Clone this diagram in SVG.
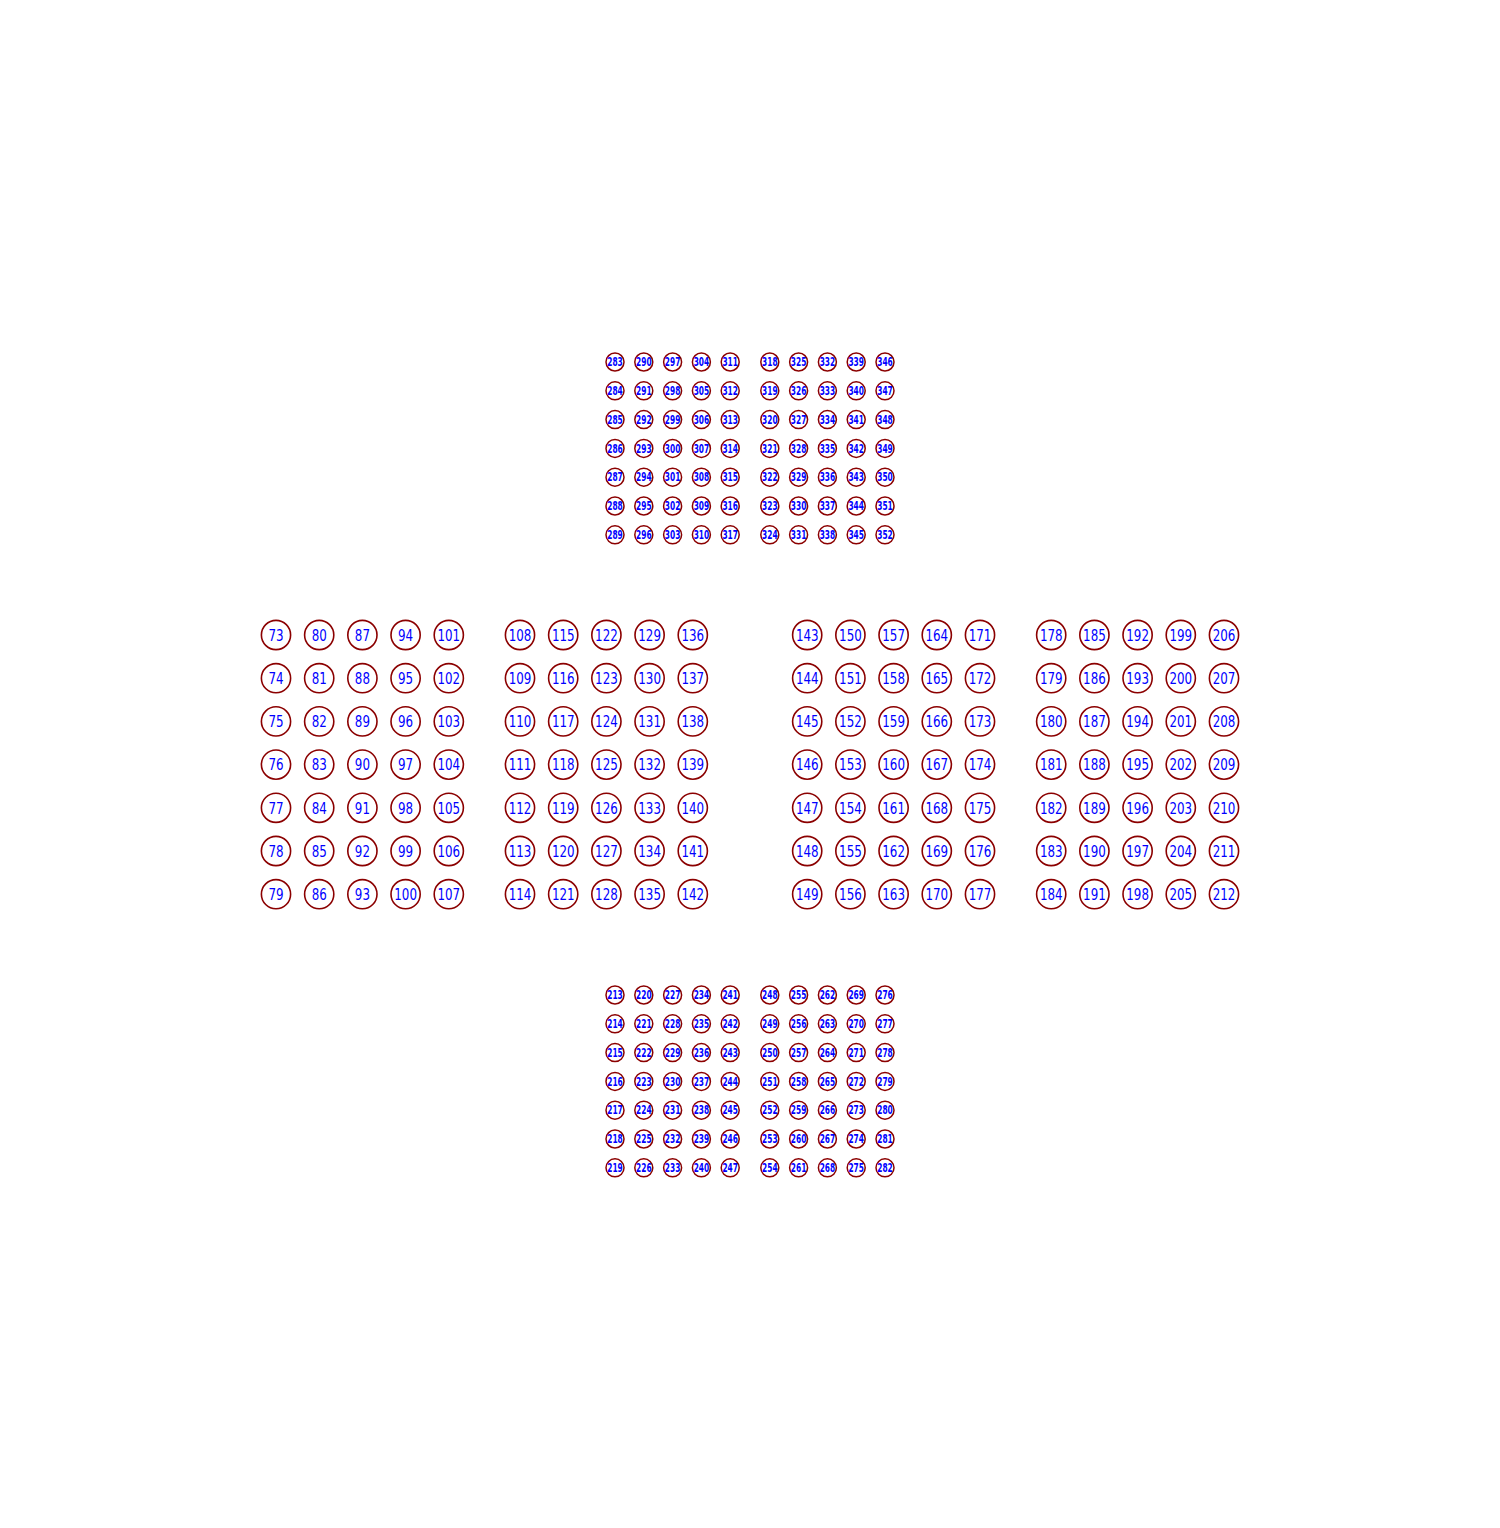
<svg xmlns="http://www.w3.org/2000/svg" width="1500" height="1528" viewBox="0 0 1500 1528">
<style>
circle{fill:#fff;stroke:#8b0000;stroke-width:1.6}
.s circle{stroke-width:1.5}
text{fill:#0000ff;font-family:"DejaVu Sans",sans-serif;text-anchor:middle;dominant-baseline:central}
.b text{font-size:16.5px;transform:scaleX(0.72)}
.s text{font-size:12px;font-weight:bold;transform:scaleX(0.62)}
</style>
<rect width="1500" height="1528" fill="#fff"/>
<g id="connectors"/>
<g class="b">
<g id="n73" transform="translate(276,635)"><circle r="14.6"/><text>73</text></g>
<g id="n74" transform="translate(276,678.2)"><circle r="14.6"/><text>74</text></g>
<g id="n75" transform="translate(276,721.4)"><circle r="14.6"/><text>75</text></g>
<g id="n76" transform="translate(276,764.6)"><circle r="14.6"/><text>76</text></g>
<g id="n77" transform="translate(276,807.8)"><circle r="14.6"/><text>77</text></g>
<g id="n78" transform="translate(276,851)"><circle r="14.6"/><text>78</text></g>
<g id="n79" transform="translate(276,894.2)"><circle r="14.6"/><text>79</text></g>
<g id="n80" transform="translate(319.2,635)"><circle r="14.6"/><text>80</text></g>
<g id="n81" transform="translate(319.2,678.2)"><circle r="14.6"/><text>81</text></g>
<g id="n82" transform="translate(319.2,721.4)"><circle r="14.6"/><text>82</text></g>
<g id="n83" transform="translate(319.2,764.6)"><circle r="14.6"/><text>83</text></g>
<g id="n84" transform="translate(319.2,807.8)"><circle r="14.6"/><text>84</text></g>
<g id="n85" transform="translate(319.2,851)"><circle r="14.6"/><text>85</text></g>
<g id="n86" transform="translate(319.2,894.2)"><circle r="14.6"/><text>86</text></g>
<g id="n87" transform="translate(362.4,635)"><circle r="14.6"/><text>87</text></g>
<g id="n88" transform="translate(362.4,678.2)"><circle r="14.6"/><text>88</text></g>
<g id="n89" transform="translate(362.4,721.4)"><circle r="14.6"/><text>89</text></g>
<g id="n90" transform="translate(362.4,764.6)"><circle r="14.6"/><text>90</text></g>
<g id="n91" transform="translate(362.4,807.8)"><circle r="14.6"/><text>91</text></g>
<g id="n92" transform="translate(362.4,851)"><circle r="14.6"/><text>92</text></g>
<g id="n93" transform="translate(362.4,894.2)"><circle r="14.6"/><text>93</text></g>
<g id="n94" transform="translate(405.6,635)"><circle r="14.6"/><text>94</text></g>
<g id="n95" transform="translate(405.6,678.2)"><circle r="14.6"/><text>95</text></g>
<g id="n96" transform="translate(405.6,721.4)"><circle r="14.6"/><text>96</text></g>
<g id="n97" transform="translate(405.6,764.6)"><circle r="14.6"/><text>97</text></g>
<g id="n98" transform="translate(405.6,807.8)"><circle r="14.6"/><text>98</text></g>
<g id="n99" transform="translate(405.6,851)"><circle r="14.6"/><text>99</text></g>
<g id="n100" transform="translate(405.6,894.2)"><circle r="14.6"/><text>100</text></g>
<g id="n101" transform="translate(448.8,635)"><circle r="14.6"/><text>101</text></g>
<g id="n102" transform="translate(448.8,678.2)"><circle r="14.6"/><text>102</text></g>
<g id="n103" transform="translate(448.8,721.4)"><circle r="14.6"/><text>103</text></g>
<g id="n104" transform="translate(448.8,764.6)"><circle r="14.6"/><text>104</text></g>
<g id="n105" transform="translate(448.8,807.8)"><circle r="14.6"/><text>105</text></g>
<g id="n106" transform="translate(448.8,851)"><circle r="14.6"/><text>106</text></g>
<g id="n107" transform="translate(448.8,894.2)"><circle r="14.6"/><text>107</text></g>
<g id="n108" transform="translate(520,635)"><circle r="14.6"/><text>108</text></g>
<g id="n109" transform="translate(520,678.2)"><circle r="14.6"/><text>109</text></g>
<g id="n110" transform="translate(520,721.4)"><circle r="14.6"/><text>110</text></g>
<g id="n111" transform="translate(520,764.6)"><circle r="14.6"/><text>111</text></g>
<g id="n112" transform="translate(520,807.8)"><circle r="14.6"/><text>112</text></g>
<g id="n113" transform="translate(520,851)"><circle r="14.6"/><text>113</text></g>
<g id="n114" transform="translate(520,894.2)"><circle r="14.6"/><text>114</text></g>
<g id="n115" transform="translate(563.2,635)"><circle r="14.6"/><text>115</text></g>
<g id="n116" transform="translate(563.2,678.2)"><circle r="14.6"/><text>116</text></g>
<g id="n117" transform="translate(563.2,721.4)"><circle r="14.6"/><text>117</text></g>
<g id="n118" transform="translate(563.2,764.6)"><circle r="14.6"/><text>118</text></g>
<g id="n119" transform="translate(563.2,807.8)"><circle r="14.6"/><text>119</text></g>
<g id="n120" transform="translate(563.2,851)"><circle r="14.6"/><text>120</text></g>
<g id="n121" transform="translate(563.2,894.2)"><circle r="14.6"/><text>121</text></g>
<g id="n122" transform="translate(606.4,635)"><circle r="14.6"/><text>122</text></g>
<g id="n123" transform="translate(606.4,678.2)"><circle r="14.6"/><text>123</text></g>
<g id="n124" transform="translate(606.4,721.4)"><circle r="14.6"/><text>124</text></g>
<g id="n125" transform="translate(606.4,764.6)"><circle r="14.6"/><text>125</text></g>
<g id="n126" transform="translate(606.4,807.8)"><circle r="14.6"/><text>126</text></g>
<g id="n127" transform="translate(606.4,851)"><circle r="14.6"/><text>127</text></g>
<g id="n128" transform="translate(606.4,894.2)"><circle r="14.6"/><text>128</text></g>
<g id="n129" transform="translate(649.6,635)"><circle r="14.6"/><text>129</text></g>
<g id="n130" transform="translate(649.6,678.2)"><circle r="14.6"/><text>130</text></g>
<g id="n131" transform="translate(649.6,721.4)"><circle r="14.6"/><text>131</text></g>
<g id="n132" transform="translate(649.6,764.6)"><circle r="14.6"/><text>132</text></g>
<g id="n133" transform="translate(649.6,807.8)"><circle r="14.6"/><text>133</text></g>
<g id="n134" transform="translate(649.6,851)"><circle r="14.6"/><text>134</text></g>
<g id="n135" transform="translate(649.6,894.2)"><circle r="14.6"/><text>135</text></g>
<g id="n136" transform="translate(692.8,635)"><circle r="14.6"/><text>136</text></g>
<g id="n137" transform="translate(692.8,678.2)"><circle r="14.6"/><text>137</text></g>
<g id="n138" transform="translate(692.8,721.4)"><circle r="14.6"/><text>138</text></g>
<g id="n139" transform="translate(692.8,764.6)"><circle r="14.6"/><text>139</text></g>
<g id="n140" transform="translate(692.8,807.8)"><circle r="14.6"/><text>140</text></g>
<g id="n141" transform="translate(692.8,851)"><circle r="14.6"/><text>141</text></g>
<g id="n142" transform="translate(692.8,894.2)"><circle r="14.6"/><text>142</text></g>
<g id="n143" transform="translate(807.2,635)"><circle r="14.6"/><text>143</text></g>
<g id="n144" transform="translate(807.2,678.2)"><circle r="14.6"/><text>144</text></g>
<g id="n145" transform="translate(807.2,721.4)"><circle r="14.6"/><text>145</text></g>
<g id="n146" transform="translate(807.2,764.6)"><circle r="14.6"/><text>146</text></g>
<g id="n147" transform="translate(807.2,807.8)"><circle r="14.6"/><text>147</text></g>
<g id="n148" transform="translate(807.2,851)"><circle r="14.6"/><text>148</text></g>
<g id="n149" transform="translate(807.2,894.2)"><circle r="14.6"/><text>149</text></g>
<g id="n150" transform="translate(850.4,635)"><circle r="14.6"/><text>150</text></g>
<g id="n151" transform="translate(850.4,678.2)"><circle r="14.6"/><text>151</text></g>
<g id="n152" transform="translate(850.4,721.4)"><circle r="14.6"/><text>152</text></g>
<g id="n153" transform="translate(850.4,764.6)"><circle r="14.6"/><text>153</text></g>
<g id="n154" transform="translate(850.4,807.8)"><circle r="14.6"/><text>154</text></g>
<g id="n155" transform="translate(850.4,851)"><circle r="14.6"/><text>155</text></g>
<g id="n156" transform="translate(850.4,894.2)"><circle r="14.6"/><text>156</text></g>
<g id="n157" transform="translate(893.6,635)"><circle r="14.6"/><text>157</text></g>
<g id="n158" transform="translate(893.6,678.2)"><circle r="14.6"/><text>158</text></g>
<g id="n159" transform="translate(893.6,721.4)"><circle r="14.6"/><text>159</text></g>
<g id="n160" transform="translate(893.6,764.6)"><circle r="14.6"/><text>160</text></g>
<g id="n161" transform="translate(893.6,807.8)"><circle r="14.6"/><text>161</text></g>
<g id="n162" transform="translate(893.6,851)"><circle r="14.6"/><text>162</text></g>
<g id="n163" transform="translate(893.6,894.2)"><circle r="14.6"/><text>163</text></g>
<g id="n164" transform="translate(936.8,635)"><circle r="14.6"/><text>164</text></g>
<g id="n165" transform="translate(936.8,678.2)"><circle r="14.6"/><text>165</text></g>
<g id="n166" transform="translate(936.8,721.4)"><circle r="14.6"/><text>166</text></g>
<g id="n167" transform="translate(936.8,764.6)"><circle r="14.6"/><text>167</text></g>
<g id="n168" transform="translate(936.8,807.8)"><circle r="14.6"/><text>168</text></g>
<g id="n169" transform="translate(936.8,851)"><circle r="14.6"/><text>169</text></g>
<g id="n170" transform="translate(936.8,894.2)"><circle r="14.6"/><text>170</text></g>
<g id="n171" transform="translate(980,635)"><circle r="14.6"/><text>171</text></g>
<g id="n172" transform="translate(980,678.2)"><circle r="14.6"/><text>172</text></g>
<g id="n173" transform="translate(980,721.4)"><circle r="14.6"/><text>173</text></g>
<g id="n174" transform="translate(980,764.6)"><circle r="14.6"/><text>174</text></g>
<g id="n175" transform="translate(980,807.8)"><circle r="14.6"/><text>175</text></g>
<g id="n176" transform="translate(980,851)"><circle r="14.6"/><text>176</text></g>
<g id="n177" transform="translate(980,894.2)"><circle r="14.6"/><text>177</text></g>
<g id="n178" transform="translate(1051.2,635)"><circle r="14.6"/><text>178</text></g>
<g id="n179" transform="translate(1051.2,678.2)"><circle r="14.6"/><text>179</text></g>
<g id="n180" transform="translate(1051.2,721.4)"><circle r="14.6"/><text>180</text></g>
<g id="n181" transform="translate(1051.2,764.6)"><circle r="14.6"/><text>181</text></g>
<g id="n182" transform="translate(1051.2,807.8)"><circle r="14.6"/><text>182</text></g>
<g id="n183" transform="translate(1051.2,851)"><circle r="14.6"/><text>183</text></g>
<g id="n184" transform="translate(1051.2,894.2)"><circle r="14.6"/><text>184</text></g>
<g id="n185" transform="translate(1094.4,635)"><circle r="14.6"/><text>185</text></g>
<g id="n186" transform="translate(1094.4,678.2)"><circle r="14.6"/><text>186</text></g>
<g id="n187" transform="translate(1094.4,721.4)"><circle r="14.6"/><text>187</text></g>
<g id="n188" transform="translate(1094.4,764.6)"><circle r="14.6"/><text>188</text></g>
<g id="n189" transform="translate(1094.4,807.8)"><circle r="14.6"/><text>189</text></g>
<g id="n190" transform="translate(1094.4,851)"><circle r="14.6"/><text>190</text></g>
<g id="n191" transform="translate(1094.4,894.2)"><circle r="14.6"/><text>191</text></g>
<g id="n192" transform="translate(1137.6,635)"><circle r="14.6"/><text>192</text></g>
<g id="n193" transform="translate(1137.6,678.2)"><circle r="14.6"/><text>193</text></g>
<g id="n194" transform="translate(1137.6,721.4)"><circle r="14.6"/><text>194</text></g>
<g id="n195" transform="translate(1137.6,764.6)"><circle r="14.6"/><text>195</text></g>
<g id="n196" transform="translate(1137.6,807.8)"><circle r="14.6"/><text>196</text></g>
<g id="n197" transform="translate(1137.6,851)"><circle r="14.6"/><text>197</text></g>
<g id="n198" transform="translate(1137.6,894.2)"><circle r="14.6"/><text>198</text></g>
<g id="n199" transform="translate(1180.8,635)"><circle r="14.6"/><text>199</text></g>
<g id="n200" transform="translate(1180.8,678.2)"><circle r="14.6"/><text>200</text></g>
<g id="n201" transform="translate(1180.8,721.4)"><circle r="14.6"/><text>201</text></g>
<g id="n202" transform="translate(1180.8,764.6)"><circle r="14.6"/><text>202</text></g>
<g id="n203" transform="translate(1180.8,807.8)"><circle r="14.6"/><text>203</text></g>
<g id="n204" transform="translate(1180.8,851)"><circle r="14.6"/><text>204</text></g>
<g id="n205" transform="translate(1180.8,894.2)"><circle r="14.6"/><text>205</text></g>
<g id="n206" transform="translate(1224,635)"><circle r="14.6"/><text>206</text></g>
<g id="n207" transform="translate(1224,678.2)"><circle r="14.6"/><text>207</text></g>
<g id="n208" transform="translate(1224,721.4)"><circle r="14.6"/><text>208</text></g>
<g id="n209" transform="translate(1224,764.6)"><circle r="14.6"/><text>209</text></g>
<g id="n210" transform="translate(1224,807.8)"><circle r="14.6"/><text>210</text></g>
<g id="n211" transform="translate(1224,851)"><circle r="14.6"/><text>211</text></g>
<g id="n212" transform="translate(1224,894.2)"><circle r="14.6"/><text>212</text></g>
</g>
<g class="s">
<g id="n213" transform="translate(615,995)"><circle r="9"/><text>213</text></g>
<g id="n214" transform="translate(615,1023.8)"><circle r="9"/><text>214</text></g>
<g id="n215" transform="translate(615,1052.6)"><circle r="9"/><text>215</text></g>
<g id="n216" transform="translate(615,1081.4)"><circle r="9"/><text>216</text></g>
<g id="n217" transform="translate(615,1110.2)"><circle r="9"/><text>217</text></g>
<g id="n218" transform="translate(615,1139)"><circle r="9"/><text>218</text></g>
<g id="n219" transform="translate(615,1167.8)"><circle r="9"/><text>219</text></g>
<g id="n220" transform="translate(643.8,995)"><circle r="9"/><text>220</text></g>
<g id="n221" transform="translate(643.8,1023.8)"><circle r="9"/><text>221</text></g>
<g id="n222" transform="translate(643.8,1052.6)"><circle r="9"/><text>222</text></g>
<g id="n223" transform="translate(643.8,1081.4)"><circle r="9"/><text>223</text></g>
<g id="n224" transform="translate(643.8,1110.2)"><circle r="9"/><text>224</text></g>
<g id="n225" transform="translate(643.8,1139)"><circle r="9"/><text>225</text></g>
<g id="n226" transform="translate(643.8,1167.8)"><circle r="9"/><text>226</text></g>
<g id="n227" transform="translate(672.6,995)"><circle r="9"/><text>227</text></g>
<g id="n228" transform="translate(672.6,1023.8)"><circle r="9"/><text>228</text></g>
<g id="n229" transform="translate(672.6,1052.6)"><circle r="9"/><text>229</text></g>
<g id="n230" transform="translate(672.6,1081.4)"><circle r="9"/><text>230</text></g>
<g id="n231" transform="translate(672.6,1110.2)"><circle r="9"/><text>231</text></g>
<g id="n232" transform="translate(672.6,1139)"><circle r="9"/><text>232</text></g>
<g id="n233" transform="translate(672.6,1167.8)"><circle r="9"/><text>233</text></g>
<g id="n234" transform="translate(701.4,995)"><circle r="9"/><text>234</text></g>
<g id="n235" transform="translate(701.4,1023.8)"><circle r="9"/><text>235</text></g>
<g id="n236" transform="translate(701.4,1052.6)"><circle r="9"/><text>236</text></g>
<g id="n237" transform="translate(701.4,1081.4)"><circle r="9"/><text>237</text></g>
<g id="n238" transform="translate(701.4,1110.2)"><circle r="9"/><text>238</text></g>
<g id="n239" transform="translate(701.4,1139)"><circle r="9"/><text>239</text></g>
<g id="n240" transform="translate(701.4,1167.8)"><circle r="9"/><text>240</text></g>
<g id="n241" transform="translate(730.2,995)"><circle r="9"/><text>241</text></g>
<g id="n242" transform="translate(730.2,1023.8)"><circle r="9"/><text>242</text></g>
<g id="n243" transform="translate(730.2,1052.6)"><circle r="9"/><text>243</text></g>
<g id="n244" transform="translate(730.2,1081.4)"><circle r="9"/><text>244</text></g>
<g id="n245" transform="translate(730.2,1110.2)"><circle r="9"/><text>245</text></g>
<g id="n246" transform="translate(730.2,1139)"><circle r="9"/><text>246</text></g>
<g id="n247" transform="translate(730.2,1167.8)"><circle r="9"/><text>247</text></g>
<g id="n248" transform="translate(769.8,995)"><circle r="9"/><text>248</text></g>
<g id="n249" transform="translate(769.8,1023.8)"><circle r="9"/><text>249</text></g>
<g id="n250" transform="translate(769.8,1052.6)"><circle r="9"/><text>250</text></g>
<g id="n251" transform="translate(769.8,1081.4)"><circle r="9"/><text>251</text></g>
<g id="n252" transform="translate(769.8,1110.2)"><circle r="9"/><text>252</text></g>
<g id="n253" transform="translate(769.8,1139)"><circle r="9"/><text>253</text></g>
<g id="n254" transform="translate(769.8,1167.8)"><circle r="9"/><text>254</text></g>
<g id="n255" transform="translate(798.6,995)"><circle r="9"/><text>255</text></g>
<g id="n256" transform="translate(798.6,1023.8)"><circle r="9"/><text>256</text></g>
<g id="n257" transform="translate(798.6,1052.6)"><circle r="9"/><text>257</text></g>
<g id="n258" transform="translate(798.6,1081.4)"><circle r="9"/><text>258</text></g>
<g id="n259" transform="translate(798.6,1110.2)"><circle r="9"/><text>259</text></g>
<g id="n260" transform="translate(798.6,1139)"><circle r="9"/><text>260</text></g>
<g id="n261" transform="translate(798.6,1167.8)"><circle r="9"/><text>261</text></g>
<g id="n262" transform="translate(827.4,995)"><circle r="9"/><text>262</text></g>
<g id="n263" transform="translate(827.4,1023.8)"><circle r="9"/><text>263</text></g>
<g id="n264" transform="translate(827.4,1052.6)"><circle r="9"/><text>264</text></g>
<g id="n265" transform="translate(827.4,1081.4)"><circle r="9"/><text>265</text></g>
<g id="n266" transform="translate(827.4,1110.2)"><circle r="9"/><text>266</text></g>
<g id="n267" transform="translate(827.4,1139)"><circle r="9"/><text>267</text></g>
<g id="n268" transform="translate(827.4,1167.8)"><circle r="9"/><text>268</text></g>
<g id="n269" transform="translate(856.2,995)"><circle r="9"/><text>269</text></g>
<g id="n270" transform="translate(856.2,1023.8)"><circle r="9"/><text>270</text></g>
<g id="n271" transform="translate(856.2,1052.6)"><circle r="9"/><text>271</text></g>
<g id="n272" transform="translate(856.2,1081.4)"><circle r="9"/><text>272</text></g>
<g id="n273" transform="translate(856.2,1110.2)"><circle r="9"/><text>273</text></g>
<g id="n274" transform="translate(856.2,1139)"><circle r="9"/><text>274</text></g>
<g id="n275" transform="translate(856.2,1167.8)"><circle r="9"/><text>275</text></g>
<g id="n276" transform="translate(885,995)"><circle r="9"/><text>276</text></g>
<g id="n277" transform="translate(885,1023.8)"><circle r="9"/><text>277</text></g>
<g id="n278" transform="translate(885,1052.6)"><circle r="9"/><text>278</text></g>
<g id="n279" transform="translate(885,1081.4)"><circle r="9"/><text>279</text></g>
<g id="n280" transform="translate(885,1110.2)"><circle r="9"/><text>280</text></g>
<g id="n281" transform="translate(885,1139)"><circle r="9"/><text>281</text></g>
<g id="n282" transform="translate(885,1167.8)"><circle r="9"/><text>282</text></g>
<g id="n283" transform="translate(615,362)"><circle r="9"/><text>283</text></g>
<g id="n284" transform="translate(615,390.8)"><circle r="9"/><text>284</text></g>
<g id="n285" transform="translate(615,419.6)"><circle r="9"/><text>285</text></g>
<g id="n286" transform="translate(615,448.4)"><circle r="9"/><text>286</text></g>
<g id="n287" transform="translate(615,477.2)"><circle r="9"/><text>287</text></g>
<g id="n288" transform="translate(615,506)"><circle r="9"/><text>288</text></g>
<g id="n289" transform="translate(615,534.8)"><circle r="9"/><text>289</text></g>
<g id="n290" transform="translate(643.8,362)"><circle r="9"/><text>290</text></g>
<g id="n291" transform="translate(643.8,390.8)"><circle r="9"/><text>291</text></g>
<g id="n292" transform="translate(643.8,419.6)"><circle r="9"/><text>292</text></g>
<g id="n293" transform="translate(643.8,448.4)"><circle r="9"/><text>293</text></g>
<g id="n294" transform="translate(643.8,477.2)"><circle r="9"/><text>294</text></g>
<g id="n295" transform="translate(643.8,506)"><circle r="9"/><text>295</text></g>
<g id="n296" transform="translate(643.8,534.8)"><circle r="9"/><text>296</text></g>
<g id="n297" transform="translate(672.6,362)"><circle r="9"/><text>297</text></g>
<g id="n298" transform="translate(672.6,390.8)"><circle r="9"/><text>298</text></g>
<g id="n299" transform="translate(672.6,419.6)"><circle r="9"/><text>299</text></g>
<g id="n300" transform="translate(672.6,448.4)"><circle r="9"/><text>300</text></g>
<g id="n301" transform="translate(672.6,477.2)"><circle r="9"/><text>301</text></g>
<g id="n302" transform="translate(672.6,506)"><circle r="9"/><text>302</text></g>
<g id="n303" transform="translate(672.6,534.8)"><circle r="9"/><text>303</text></g>
<g id="n304" transform="translate(701.4,362)"><circle r="9"/><text>304</text></g>
<g id="n305" transform="translate(701.4,390.8)"><circle r="9"/><text>305</text></g>
<g id="n306" transform="translate(701.4,419.6)"><circle r="9"/><text>306</text></g>
<g id="n307" transform="translate(701.4,448.4)"><circle r="9"/><text>307</text></g>
<g id="n308" transform="translate(701.4,477.2)"><circle r="9"/><text>308</text></g>
<g id="n309" transform="translate(701.4,506)"><circle r="9"/><text>309</text></g>
<g id="n310" transform="translate(701.4,534.8)"><circle r="9"/><text>310</text></g>
<g id="n311" transform="translate(730.2,362)"><circle r="9"/><text>311</text></g>
<g id="n312" transform="translate(730.2,390.8)"><circle r="9"/><text>312</text></g>
<g id="n313" transform="translate(730.2,419.6)"><circle r="9"/><text>313</text></g>
<g id="n314" transform="translate(730.2,448.4)"><circle r="9"/><text>314</text></g>
<g id="n315" transform="translate(730.2,477.2)"><circle r="9"/><text>315</text></g>
<g id="n316" transform="translate(730.2,506)"><circle r="9"/><text>316</text></g>
<g id="n317" transform="translate(730.2,534.8)"><circle r="9"/><text>317</text></g>
<g id="n318" transform="translate(769.8,362)"><circle r="9"/><text>318</text></g>
<g id="n319" transform="translate(769.8,390.8)"><circle r="9"/><text>319</text></g>
<g id="n320" transform="translate(769.8,419.6)"><circle r="9"/><text>320</text></g>
<g id="n321" transform="translate(769.8,448.4)"><circle r="9"/><text>321</text></g>
<g id="n322" transform="translate(769.8,477.2)"><circle r="9"/><text>322</text></g>
<g id="n323" transform="translate(769.8,506)"><circle r="9"/><text>323</text></g>
<g id="n324" transform="translate(769.8,534.8)"><circle r="9"/><text>324</text></g>
<g id="n325" transform="translate(798.6,362)"><circle r="9"/><text>325</text></g>
<g id="n326" transform="translate(798.6,390.8)"><circle r="9"/><text>326</text></g>
<g id="n327" transform="translate(798.6,419.6)"><circle r="9"/><text>327</text></g>
<g id="n328" transform="translate(798.6,448.4)"><circle r="9"/><text>328</text></g>
<g id="n329" transform="translate(798.6,477.2)"><circle r="9"/><text>329</text></g>
<g id="n330" transform="translate(798.6,506)"><circle r="9"/><text>330</text></g>
<g id="n331" transform="translate(798.6,534.8)"><circle r="9"/><text>331</text></g>
<g id="n332" transform="translate(827.4,362)"><circle r="9"/><text>332</text></g>
<g id="n333" transform="translate(827.4,390.8)"><circle r="9"/><text>333</text></g>
<g id="n334" transform="translate(827.4,419.6)"><circle r="9"/><text>334</text></g>
<g id="n335" transform="translate(827.4,448.4)"><circle r="9"/><text>335</text></g>
<g id="n336" transform="translate(827.4,477.2)"><circle r="9"/><text>336</text></g>
<g id="n337" transform="translate(827.4,506)"><circle r="9"/><text>337</text></g>
<g id="n338" transform="translate(827.4,534.8)"><circle r="9"/><text>338</text></g>
<g id="n339" transform="translate(856.2,362)"><circle r="9"/><text>339</text></g>
<g id="n340" transform="translate(856.2,390.8)"><circle r="9"/><text>340</text></g>
<g id="n341" transform="translate(856.2,419.6)"><circle r="9"/><text>341</text></g>
<g id="n342" transform="translate(856.2,448.4)"><circle r="9"/><text>342</text></g>
<g id="n343" transform="translate(856.2,477.2)"><circle r="9"/><text>343</text></g>
<g id="n344" transform="translate(856.2,506)"><circle r="9"/><text>344</text></g>
<g id="n345" transform="translate(856.2,534.8)"><circle r="9"/><text>345</text></g>
<g id="n346" transform="translate(885,362)"><circle r="9"/><text>346</text></g>
<g id="n347" transform="translate(885,390.8)"><circle r="9"/><text>347</text></g>
<g id="n348" transform="translate(885,419.6)"><circle r="9"/><text>348</text></g>
<g id="n349" transform="translate(885,448.4)"><circle r="9"/><text>349</text></g>
<g id="n350" transform="translate(885,477.2)"><circle r="9"/><text>350</text></g>
<g id="n351" transform="translate(885,506)"><circle r="9"/><text>351</text></g>
<g id="n352" transform="translate(885,534.8)"><circle r="9"/><text>352</text></g>
</g>
</svg>
